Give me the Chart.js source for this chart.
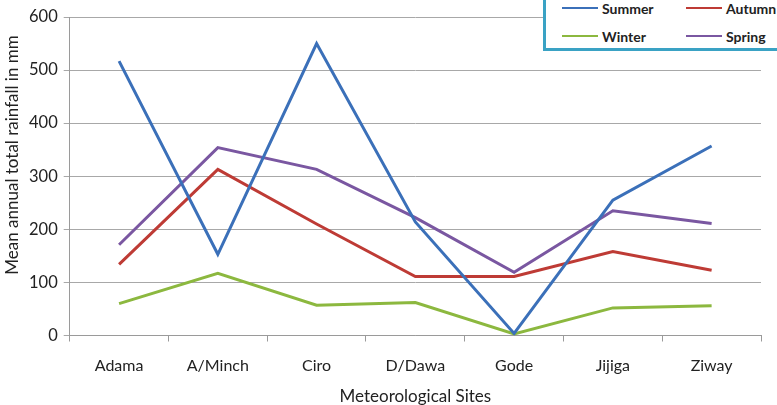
<!DOCTYPE html>
<html>
<head>
<meta charset="utf-8">
<script src="https://cdn.jsdelivr.net/npm/chart.js@4"></script>
<style>
  html, body { margin: 0; padding: 0; background: #fff; }
  #wrap { position: relative; width: 777px; height: 405px; overflow: hidden; }
  #legend {
    position: absolute; left: 543px; top: -8px; width: 250px; height: 59px;
    border: 3px solid #3aa2c4; background: #fff; box-sizing: border-box;
    font-family: Lato, "Open Sans", sans-serif; font-weight: bold; font-size: 14px; color: #222;
  }
  .item { position: absolute; display: flex; align-items: center; height: 16px; }
  .item span.ln { display: inline-block; width: 36px; height: 2px; margin-right: 4px; }
</style>
</head>
<body>
<div id="wrap">
  <canvas id="chart" width="777" height="405"></canvas>
  <div id="legend"></div>
</div>
<script>
const sites = ["Adama", "A/Minch", "Ciro", "D/Dawa", "Gode", "Jijiga", "Ziway"];
const summer = [517, 153, 550, 214, 4, 255, 357];
const autumn = [134, 313, 210, 111, 111, 158, 123];
const winter = [60, 117, 57, 62, 3, 52, 56];
const spring = [171, 354, 313, 222, 119, 235, 211];
const yTicks = [0, 100, 200, 300, 400, 500, 600];

const FONT = "Lato, 'Open Sans', sans-serif";
const yTitle = "Mean annual total rainfall in mm";

const series = [
  { label: "Summer", data: summer, color: "#3b70b9" },
  { label: "Autumn", data: autumn, color: "#be3b35" },
  { label: "Winter", data: winter, color: "#8cb83f" },
  { label: "Spring", data: spring, color: "#7a57a1" },
];

// two columns, two rows, like the reference box
const legendPos = [[16, 13], [140, 13], [16, 41], [140, 41]];
document.getElementById("legend").innerHTML = series
  .map((s, i) =>
    `<div class="item" style="left:${legendPos[i][0]}px;top:${legendPos[i][1] - 8}px">` +
    `<span class="ln" style="background:${s.color}"></span>${s.label}</div>`)
  .join("");

// y title sits a bit above the plot centre in the reference, so draw it by hand
const yTitlePlugin = {
  id: "yTitle",
  afterDraw(chart) {
    const ctx = chart.ctx;
    ctx.save();
    ctx.translate(13, 155);
    ctx.rotate(-Math.PI / 2);
    ctx.font = `17px ${FONT}`;
    ctx.fillStyle = "#222";
    ctx.textAlign = "center";
    ctx.textBaseline = "middle";
    ctx.fillText(yTitle, 0, 0);
    ctx.restore();
  },
};

new Chart(document.getElementById("chart"), {
  type: "line",
  data: {
    labels: sites,
    datasets: series.map((s) => ({
      label: s.label,
      data: s.data,
      borderColor: s.color,
      backgroundColor: s.color,
      borderWidth: 3,
      pointRadius: 0,
      tension: 0,
      fill: false,
    })),
  },
  options: {
    responsive: false,
    animation: false,
    layout: { padding: { top: 17, right: 16, left: 0, bottom: 0 } },
    plugins: { legend: { display: false }, tooltip: { enabled: false } },
    scales: {
      x: {
        offset: true,
        grid: { drawOnChartArea: false, offset: true, tickLength: 6, color: "#9a9a9a" },
        border: { color: "#9a9a9a" },
        ticks: { color: "#222", font: { family: FONT, size: 16 }, padding: 15 },
        title: { display: true, text: "Meteorological Sites", color: "#222", font: { family: FONT, size: 17 }, padding: { top: 0, bottom: -2 } },
        afterFit: (axis) => { axis.height = 69.5; },
      },
      y: {
        min: 0, max: 600,
        afterBuildTicks: (axis) => { axis.ticks = yTicks.map((v) => ({ value: v })); },
        grid: { color: "#a8a8a8", tickLength: 6 },
        border: { color: "#9a9a9a" },
        ticks: { color: "#222", font: { family: FONT, size: 16.5 }, padding: 6 },
        afterFit: (axis) => { axis.width = 69.7; },
      },
    },
  },
  plugins: [yTitlePlugin],
});
</script>
</body>
</html>
